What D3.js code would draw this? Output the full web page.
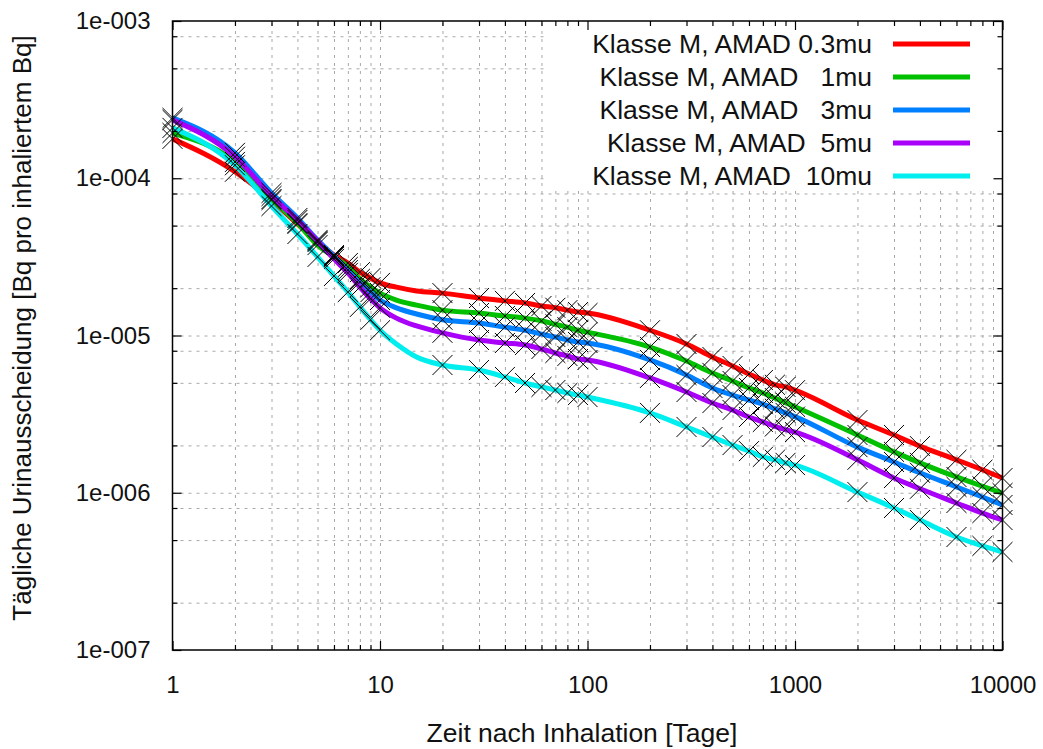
<!DOCTYPE html>
<html>
<head>
<meta charset="utf-8">
<script src="https://cdn.jsdelivr.net/npm/d3@7"></script>
<style>
  body { margin: 0; background: #fff; }
  svg text { font-family: "Liberation Sans", Arial, sans-serif; fill: #111; }
  .grid line { stroke: #a8a8a8; stroke-width: 1; stroke-dasharray: 3,5; }
  .grid path { display: none; }
  .ax path { display: none; }
  .ax line { stroke: #000; stroke-width: 1.2; }
</style>
</head>
<body>
<svg id="chart" width="1043" height="749"></svg>
<script>
// days after inhalation (lines go through all of them, markers skip 12 and 15)
const days = [1, 2, 3, 4, 5, 6, 7, 8, 9, 10, 12, 15, 20, 30, 40, 50, 60, 70, 80, 90, 100,
  200, 300, 400, 500, 600, 700, 800, 900, 1000, 2000, 3000, 4000, 6000, 8000, 10000];
const markerDays = [1, 2, 3, 4, 5, 6, 7, 8, 9, 10, 20, 30, 40, 50, 60, 70, 80, 90, 100,
  200, 300, 400, 500, 600, 700, 800, 900, 1000, 2000, 3000, 4000, 6000, 8000, 10000];

// daily urinary excretion [Bq per inhaled Bq]
const amad03 = [1.78e-4, 1.10e-4, 7.27e-5, 5.12e-5, 3.93e-5, 3.25e-5, 2.89e-5, 2.53e-5, 2.32e-5, 2.16e-5,
  2.03e-5, 1.92e-5, 1.86e-5, 1.73e-5, 1.66e-5, 1.61e-5, 1.54e-5, 1.50e-5, 1.45e-5, 1.41e-5, 1.39e-5,
  1.08e-5, 8.83e-6, 7.30e-6, 6.40e-6, 5.69e-6, 5.21e-6, 4.86e-6, 4.71e-6, 4.49e-6,
  2.90e-6, 2.33e-6, 1.98e-6, 1.62e-6, 1.40e-6, 1.24e-6];
const amad1 = [1.94e-4, 1.27e-4, 7.38e-5, 5.19e-5, 3.76e-5, 3.16e-5, 2.73e-5, 2.29e-5, 2.03e-5, 1.86e-5,
  1.68e-5, 1.56e-5, 1.45e-5, 1.39e-5, 1.33e-5, 1.29e-5, 1.24e-5, 1.18e-5, 1.13e-5, 1.08e-5, 1.05e-5,
  8.45e-6, 6.88e-6, 5.78e-6, 5.14e-6, 4.64e-6, 4.31e-6, 4.00e-6, 3.74e-6, 3.52e-6,
  2.33e-6, 1.82e-6, 1.55e-6, 1.26e-6, 1.10e-6, 9.96e-7];
const amad3 = [2.42e-4, 1.45e-4, 8.06e-5, 5.59e-5, 4.05e-5, 3.20e-5, 2.61e-5, 2.19e-5, 1.89e-5, 1.68e-5,
  1.50e-5, 1.37e-5, 1.26e-5, 1.20e-5, 1.13e-5, 1.08e-5, 1.02e-5, 9.78e-6, 9.36e-6, 9.09e-6, 8.96e-6,
  6.99e-6, 5.61e-6, 4.64e-6, 4.18e-6, 3.89e-6, 3.66e-6, 3.42e-6, 3.22e-6, 3.05e-6,
  1.95e-6, 1.57e-6, 1.34e-6, 1.09e-6, 9.40e-7, 8.36e-7];
const amad5 = [2.35e-4, 1.37e-4, 7.71e-5, 5.43e-5, 3.99e-5, 3.07e-5, 2.50e-5, 2.03e-5, 1.71e-5, 1.50e-5,
  1.29e-5, 1.15e-5, 1.04e-5, 9.36e-6, 8.96e-6, 8.70e-6, 8.21e-6, 7.74e-6, 7.41e-6, 7.09e-6, 6.99e-6,
  5.37e-6, 4.37e-6, 3.72e-6, 3.36e-6, 3.03e-6, 2.82e-6, 2.64e-6, 2.52e-6, 2.43e-6,
  1.62e-6, 1.24e-6, 1.06e-6, 8.61e-7, 7.43e-7, 6.71e-7];
const amad10 = [2.09e-4, 1.21e-4, 6.66e-5, 4.42e-5, 3.16e-5, 2.39e-5, 1.89e-5, 1.52e-5, 1.26e-5, 1.08e-5,
  8.83e-6, 7.30e-6, 6.49e-6, 6.03e-6, 5.45e-6, 4.99e-6, 4.71e-6, 4.50e-6, 4.31e-6, 4.18e-6, 4.06e-6,
  3.22e-6, 2.62e-6, 2.26e-6, 2.01e-6, 1.84e-6, 1.69e-6, 1.62e-6, 1.55e-6, 1.50e-6,
  1.01e-6, 8.00e-7, 6.71e-7, 5.23e-7, 4.59e-7, 4.20e-7];

const seriesValues = [amad03, amad1, amad3, amad5, amad10];
const seriesLabels = ['Klasse M, AMAD 0.3mu', 'Klasse M, AMAD   1mu', 'Klasse M, AMAD   3mu',
  'Klasse M, AMAD  5mu', 'Klasse M, AMAD  10mu'];
const seriesColors = ['#ff0000', '#00c000', '#0080ff', '#a800f8', '#00eeee'];

const xMajor = [1, 10, 100, 1000, 10000];
const xTickLabels = ['1', '10', '100', '1000', '10000'];
const yMajor = [1e-3, 1e-4, 1e-5, 1e-6, 1e-7];
const yTickLabels = ['1e-003', '1e-004', '1e-005', '1e-006', '1e-007'];
const xTitle = 'Zeit nach Inhalation [Tage]';
const yTitle = 'T\u00e4gliche Urinausscheidung [Bq pro inhaliertem Bq]';

// minor positions: x 2..9 per decade, y only 2, 5, 8 per decade
const xMinor = [];
[1, 10, 100, 1000].forEach(d => { for (let k = 2; k <= 9; k++) xMinor.push(d * k); });
const yMinor = [];
[1e-7, 1e-6, 1e-5, 1e-4].forEach(d => { [2, 5, 8].forEach(k => yMinor.push(d * k)); });

const plotL = 172.5, plotR = 1002.5, plotT = 21, plotB = 650;
const svg = d3.select('#chart');

const x = d3.scaleLog().domain([1, 10000]).range([plotL, plotR]);
const y = d3.scaleLog().domain([1e-7, 1e-3]).range([plotB, plotT]);

// grid
svg.append('g').attr('class', 'grid')
  .attr('transform', `translate(0,${plotB})`)
  .call(d3.axisBottom(x).tickValues(xMinor.concat([10, 100, 1000])).tickFormat('').tickSize(-(plotB - plotT)));
svg.append('g').attr('class', 'grid')
  .attr('transform', `translate(${plotL},0)`)
  .call(d3.axisLeft(y).tickValues(yMinor.concat([1e-6, 1e-5, 1e-4])).tickFormat('').tickSize(-(plotR - plotL)));

// opaque key box
svg.append('rect')
  .attr('x', 545).attr('y', plotT + 1)
  .attr('width', plotR - 545 - 1).attr('height', 168)
  .attr('fill', '#fff');

// curves
const line = d3.line()
  .x((d, i) => x(days[i]))
  .y(d => y(d))
  .curve(d3.curveMonotoneX);

seriesValues.forEach((vals, s) => {
  svg.append('path')
    .attr('d', line(vals))
    .attr('fill', 'none')
    .attr('stroke', seriesColors[s])
    .attr('stroke-width', 5)
    .attr('stroke-linejoin', 'round');
});

// X markers
const cross = d3.symbol().type(d3.symbolX).size(263);
seriesValues.forEach(vals => {
  svg.append('g')
    .selectAll('path')
    .data(markerDays)
    .join('path')
    .attr('transform', d => `translate(${x(d)},${y(vals[days.indexOf(d)])})`)
    .attr('d', cross)
    .attr('fill', 'none')
    .attr('stroke', '#000')
    .attr('stroke-width', 1);
});

// legend
const key = svg.append('g');
seriesLabels.forEach((lab, i) => {
  const ky = 44 + i * 33;
  key.append('text')
    .attr('x', 872).attr('y', ky)
    .attr('dy', '0.35em')
    .attr('text-anchor', 'end')
    .style('white-space', 'pre')
    .style('font-size', '26.5px')
    .text(lab);
  key.append('line')
    .attr('x1', 893).attr('x2', 970)
    .attr('y1', ky).attr('y2', ky)
    .attr('stroke', seriesColors[i])
    .attr('stroke-width', 5);
});

// axes with inward ticks on all four sides
function ticks(g, axis) {
  g.call(axis);
  g.attr('class', 'ax');
  g.selectAll('text').style('font-size', '24px');
}
svg.append('g').attr('transform', `translate(0,${plotB})`)
  .call(ticks, d3.axisBottom(x).tickValues(xMajor).tickFormat((d, i) => xTickLabels[i]).tickSize(-9).tickPadding(26));
svg.append('g').attr('transform', `translate(0,${plotB})`)
  .call(ticks, d3.axisBottom(x).tickValues(xMinor).tickFormat('').tickSize(-5));
svg.append('g').attr('transform', `translate(0,${plotT})`)
  .call(ticks, d3.axisTop(x).tickValues(xMajor).tickFormat('').tickSize(-9));
svg.append('g').attr('transform', `translate(0,${plotT})`)
  .call(ticks, d3.axisTop(x).tickValues(xMinor).tickFormat('').tickSize(-5));
svg.append('g').attr('transform', `translate(${plotL},0)`)
  .call(ticks, d3.axisLeft(y).tickValues(yMajor).tickFormat((d, i) => yTickLabels[i]).tickSize(-9).tickPadding(22));
svg.append('g').attr('transform', `translate(${plotL},0)`)
  .call(ticks, d3.axisLeft(y).tickValues(yMinor).tickFormat('').tickSize(-5));
svg.append('g').attr('transform', `translate(${plotR},0)`)
  .call(ticks, d3.axisRight(y).tickValues(yMajor).tickFormat('').tickSize(-9));
svg.append('g').attr('transform', `translate(${plotR},0)`)
  .call(ticks, d3.axisRight(y).tickValues(yMinor).tickFormat('').tickSize(-5));

// border
svg.append('rect')
  .attr('x', plotL).attr('y', plotT)
  .attr('width', plotR - plotL).attr('height', plotB - plotT)
  .attr('fill', 'none').attr('stroke', '#000').attr('stroke-width', 1.5);

// titles
svg.append('text')
  .attr('x', 582).attr('y', 733)
  .attr('dy', '0.35em')
  .attr('text-anchor', 'middle')
  .style('font-size', '26.5px')
  .text(xTitle);
svg.append('text')
  .attr('transform', 'translate(22,328) rotate(-90)')
  .attr('dy', '0.35em')
  .attr('text-anchor', 'middle')
  .style('font-size', '26px')
  .text(yTitle);
</script>
</body>
</html>
